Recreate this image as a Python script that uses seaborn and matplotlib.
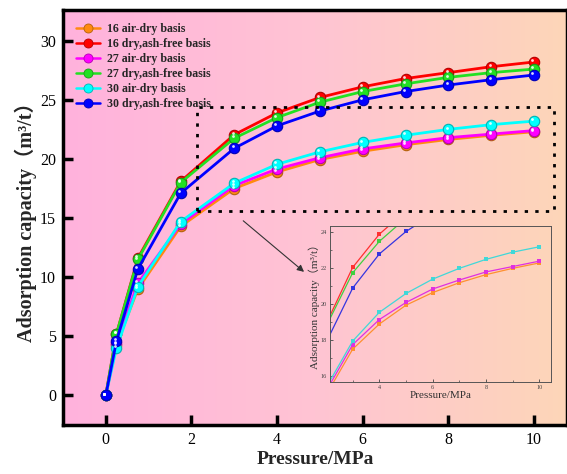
import numpy as np
import pandas as pd
import matplotlib
matplotlib.use("Agg")
import matplotlib.pyplot as plt
import matplotlib.transforms as mtransforms
from matplotlib.colors import LinearSegmentedColormap, to_rgb
from matplotlib.patches import Rectangle
from matplotlib.lines import Line2D
import seaborn as sns

# ---------------- data ----------------
pressure = [0, 0.25, 0.75, 1.75, 3, 4, 5, 6, 7, 8, 9, 10]
series_names = ["16 air-dry basis", "16 dry,ash-free basis",
                "27 air-dry basis", "27 dry,ash-free basis",
                "30 air-dry basis", "30 dry,ash-free basis"]
s16_ad  = [0, 4.3, 9.0, 14.3, 17.5, 18.9, 19.95, 20.65, 21.2, 21.65, 22.0, 22.3]
s16_daf = [0, 5.2, 11.6, 18.1, 22.05, 23.9, 25.2, 26.1, 26.8, 27.3, 27.8, 28.2]
s27_ad  = [0, 4.4, 9.5, 14.5, 17.75, 19.15, 20.1, 20.85, 21.35, 21.8, 22.1, 22.4]
s27_daf = [0, 5.2, 11.5, 18.0, 21.75, 23.5, 24.8, 25.7, 26.35, 26.9, 27.3, 27.6]
s30_ad  = [0, 4.0, 9.2, 14.7, 17.95, 19.55, 20.6, 21.4, 22.0, 22.5, 22.9, 23.2]
s30_daf = [0, 4.6, 10.7, 17.1, 20.9, 22.8, 24.05, 25.0, 25.7, 26.25, 26.7, 27.1]
values = [s16_ad, s16_daf, s27_ad, s27_daf, s30_ad, s30_daf]

colors = ["#FF8A10", "#FF0000", "#FF00FF", "#22E022", "#00FFFF", "#0000FF"]
inset_colors = ["#FF9030", "#FF3030", "#E030E0", "#40D040", "#40D8D8", "#3535E0"]

df = pd.DataFrame({
    "Pressure": np.tile(pressure, len(series_names)),
    "Adsorption": np.concatenate(values),
    "Series": np.repeat(series_names, len(pressure)),
})

serif = ["Liberation Serif", "DejaVu Serif"]
serif_cjk = ["Liberation Serif", "Noto Sans CJK SC", "DejaVu Serif"]

sns.set_theme(style="white")
plt.rcParams["font.family"] = serif

fig = plt.figure(figsize=(5.67, 4.74), dpi=100)
fig.patch.set_facecolor("white")
ax = fig.add_axes([0.111, 0.1034, 0.889, 0.8756])

# gradient background
cmap = LinearSegmentedColormap.from_list("bg", ["#FFB2DD", "#FFC4D3", "#FDD6B8"])
grad = np.linspace(0, 1, 256).reshape(1, -1)
ax.imshow(grad, extent=[0, 1, 0, 1], transform=ax.transAxes, aspect="auto",
          cmap=cmap, zorder=0)

palette = dict(zip(series_names, colors))
sns.lineplot(data=df, x="Pressure", y="Adsorption", hue="Series",
             hue_order=series_names, palette=palette, ax=ax, lw=2.0,
             marker="o", markersize=7.5, markeredgewidth=0.8, legend=False,
             zorder=3)
for line, c in zip(ax.lines, colors):
    r, g, b = to_rgb(c)
    line.set_markeredgecolor((r * 0.7, g * 0.7, b * 0.7))

# glossy highlights
hl = mtransforms.offset_copy(ax.transData, fig=fig, x=-1.6, y=1.8, units="dots")
for name in series_names:
    sub = df[df["Series"] == name]
    ax.scatter(sub["Pressure"], sub["Adsorption"], s=4, color="white",
               alpha=0.85, transform=hl, zorder=4, linewidths=0)

ax.set_xlim(-1.0, 10.77)
ax.set_ylim(-2.5, 32.6)
ax.set_xticks([0, 2, 4, 6, 8, 10])
ax.set_yticks([0, 5, 10, 15, 20, 25, 30])
ax.tick_params(direction="in", length=7, width=2.5, labelsize=11.5, pad=5,
               colors="black", bottom=True, left=True, top=False, right=False)
for sp in ax.spines.values():
    sp.set_linewidth(2.5)
    sp.set_color("black")
ax.set_xlabel("Pressure/MPa", fontsize=14, fontweight="bold", labelpad=2)
ax.set_ylabel("Adsorption capacity（m³/t）", fontsize=14.5,
              fontweight="bold", family=serif_cjk, labelpad=2)

# legend
handles = []
for name, c in zip(series_names, colors):
    r, g, b = to_rgb(c)
    handles.append(Line2D([], [], color=c, lw=1.8, marker="o", markersize=6.5,
                          markeredgecolor=(r * 0.7, g * 0.7, b * 0.7),
                          markeredgewidth=0.6))
leg = ax.legend(handles, series_names, loc="upper left",
                bbox_to_anchor=(0.012, 0.985), frameon=False,
                prop={"family": serif, "weight": "bold", "size": 8.6},
                handlelength=2.0, handletextpad=0.6, labelspacing=0.25,
                borderaxespad=0.2)

# zoom rectangle
rect = Rectangle((2.13, 15.6), 10.46 - 2.13, 24.4 - 15.6, fill=False,
                 edgecolor="black", lw=2.0, linestyle=(0, (1.2, 2.6)), zorder=5)
ax.add_patch(rect)

# arrow
ax.annotate("", xy=(4.63, 10.45), xytext=(3.21, 14.77),
            arrowprops=dict(arrowstyle="-|>", color="#333333", lw=0.8,
                            mutation_scale=10, shrinkA=0, shrinkB=0),
            zorder=6)

# inset
axin = fig.add_axes([0.582, 0.194, 0.390, 0.329])
axin.set_facecolor("none")
inset_palette = dict(zip(series_names, inset_colors))
sns.lineplot(data=df, x="Pressure", y="Adsorption", hue="Series",
             hue_order=series_names, palette=inset_palette, ax=axin, lw=0.9,
             marker="s", markersize=2.6, markeredgewidth=0, legend=False)
axin.set_xlim(2.15, 10.44)
axin.set_ylim(15.67, 24.35)
axin.set_xticks([4, 6, 8, 10])
axin.set_xticks([3, 5, 7, 9], minor=True)
axin.set_yticks([16, 18, 20, 22, 24])
axin.set_yticks([17, 19, 21, 23], minor=True)
axin.tick_params(which="both", direction="in", labelsize=4.5, pad=2,
                 colors="#444444", bottom=True, left=True)
axin.tick_params(which="major", length=2.5, width=0.6)
axin.tick_params(which="minor", length=1.5, width=0.5)
for sp in axin.spines.values():
    sp.set_linewidth(0.7)
    sp.set_color("#555555")
axin.set_xlabel("Pressure/MPa", fontsize=8, labelpad=1, color="#333333")
axin.set_ylabel("Adsorption capacity（m³/t）", fontsize=8, labelpad=1,
                family=serif_cjk, color="#333333")

fig.savefig("out.png", dpi=100)
